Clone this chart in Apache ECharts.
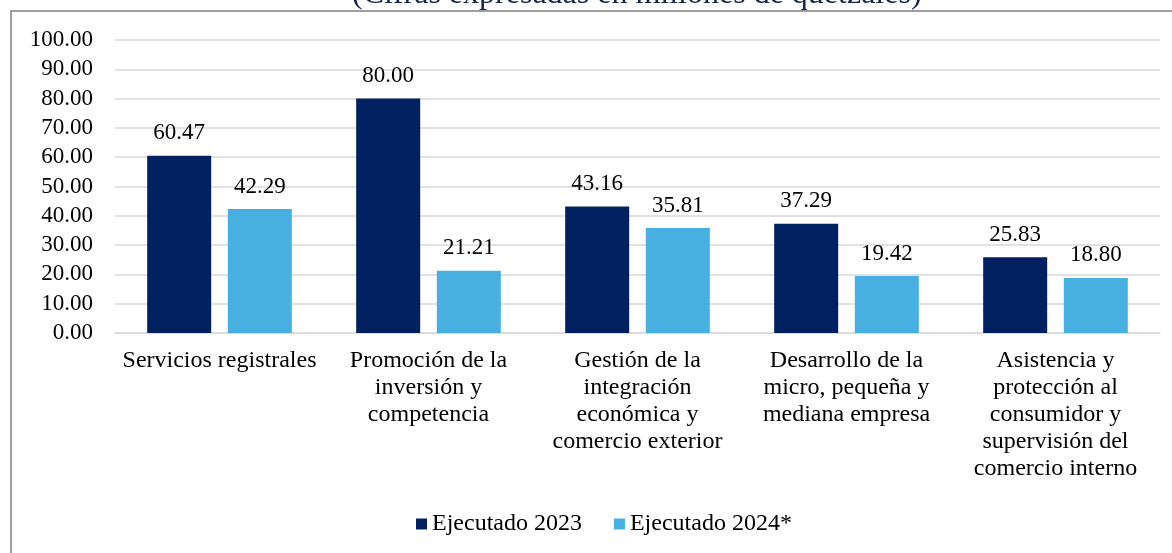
<!DOCTYPE html>
<html>
<head>
<meta charset="utf-8">
<script src="https://cdn.jsdelivr.net/npm/echarts@6/dist/echarts.min.js"></script>
<style>
  html, body { margin: 0; padding: 0; background: #fff; }
  #chart { width: 1172px; height: 553px; }
</style>
</head>
<body>
<div id="chart"></div>
<script>
const categories = [
  'Servicios registrales',
  'Promoción de la\ninversión y\ncompetencia',
  'Gestión de la\nintegración\neconómica y\ncomercio exterior',
  'Desarrollo de la\nmicro, pequeña y\nmediana empresa',
  'Asistencia y\nprotección al\nconsumidor y\nsupervisión del\ncomercio interno'
];
const ejecutado2023 = [60.47, 80.00, 43.16, 37.29, 25.83];
const ejecutado2024 = [42.29, 21.21, 35.81, 19.42, 18.80];
const seriesNames = ['Ejecutado 2023', 'Ejecutado 2024*'];
const titleText = '(Cifras expresadas en millones de quetzales)';

const font = '"Liberation Serif", "Times New Roman", serif';
const chart = echarts.init(document.getElementById('chart'));

const labelStyle = {
  show: true,
  position: 'top',
  distance: 11,
  color: '#000',
  fontFamily: font,
  fontSize: 23,
  formatter: p => p.value.toFixed(2)
};

chart.setOption({
  animation: false,
  textStyle: { fontFamily: font },
  title: {
    text: titleText,
    left: 347,
    top: -26,
    textStyle: { fontFamily: font, fontSize: 32, fontWeight: 'normal', color: '#13264a' }
  },
  graphic: [{
    type: 'rect',
    shape: { x: 11, y: 11, width: 1200, height: 600 },
    style: { fill: 'none', stroke: '#808080', lineWidth: 1.5 },
    silent: true
  }],
  legend: {
    bottom: 12,
    left: 411,
    itemWidth: 11,
    itemHeight: 11,
    itemGap: 32,
    icon: 'rect',
    textStyle: { fontFamily: font, fontSize: 24, color: '#000' },
    data: seriesNames
  },
  grid: { left: 115, right: 12, top: 40, bottom: 220 },
  xAxis: {
    type: 'category',
    data: categories,
    axisTick: { show: false },
    axisLine: { lineStyle: { color: '#d9d9d9', width: 1.5 } },
    axisLabel: {
      color: '#000',
      fontFamily: font,
      fontSize: 24,
      lineHeight: 27,
      margin: 14,
      interval: 0
    }
  },
  yAxis: {
    type: 'value',
    min: 0,
    max: 100,
    interval: 10,
    axisLine: { show: false },
    axisTick: { show: false },
    splitLine: { lineStyle: { color: '#d9d9d9', width: 1.5 } },
    axisLabel: {
      color: '#000',
      fontFamily: font,
      fontSize: 23,
      margin: 22,
      formatter: v => v.toFixed(2)
    }
  },
  series: [
    {
      name: seriesNames[0],
      type: 'bar',
      data: ejecutado2023,
      barWidth: 64,
      barGap: '26%',
      itemStyle: { color: '#002060' },
      label: labelStyle
    },
    {
      name: seriesNames[1],
      type: 'bar',
      data: ejecutado2024,
      barWidth: 64,
      itemStyle: { color: '#48B0E0' },
      label: labelStyle
    }
  ]
});
</script>
</body>
</html>
